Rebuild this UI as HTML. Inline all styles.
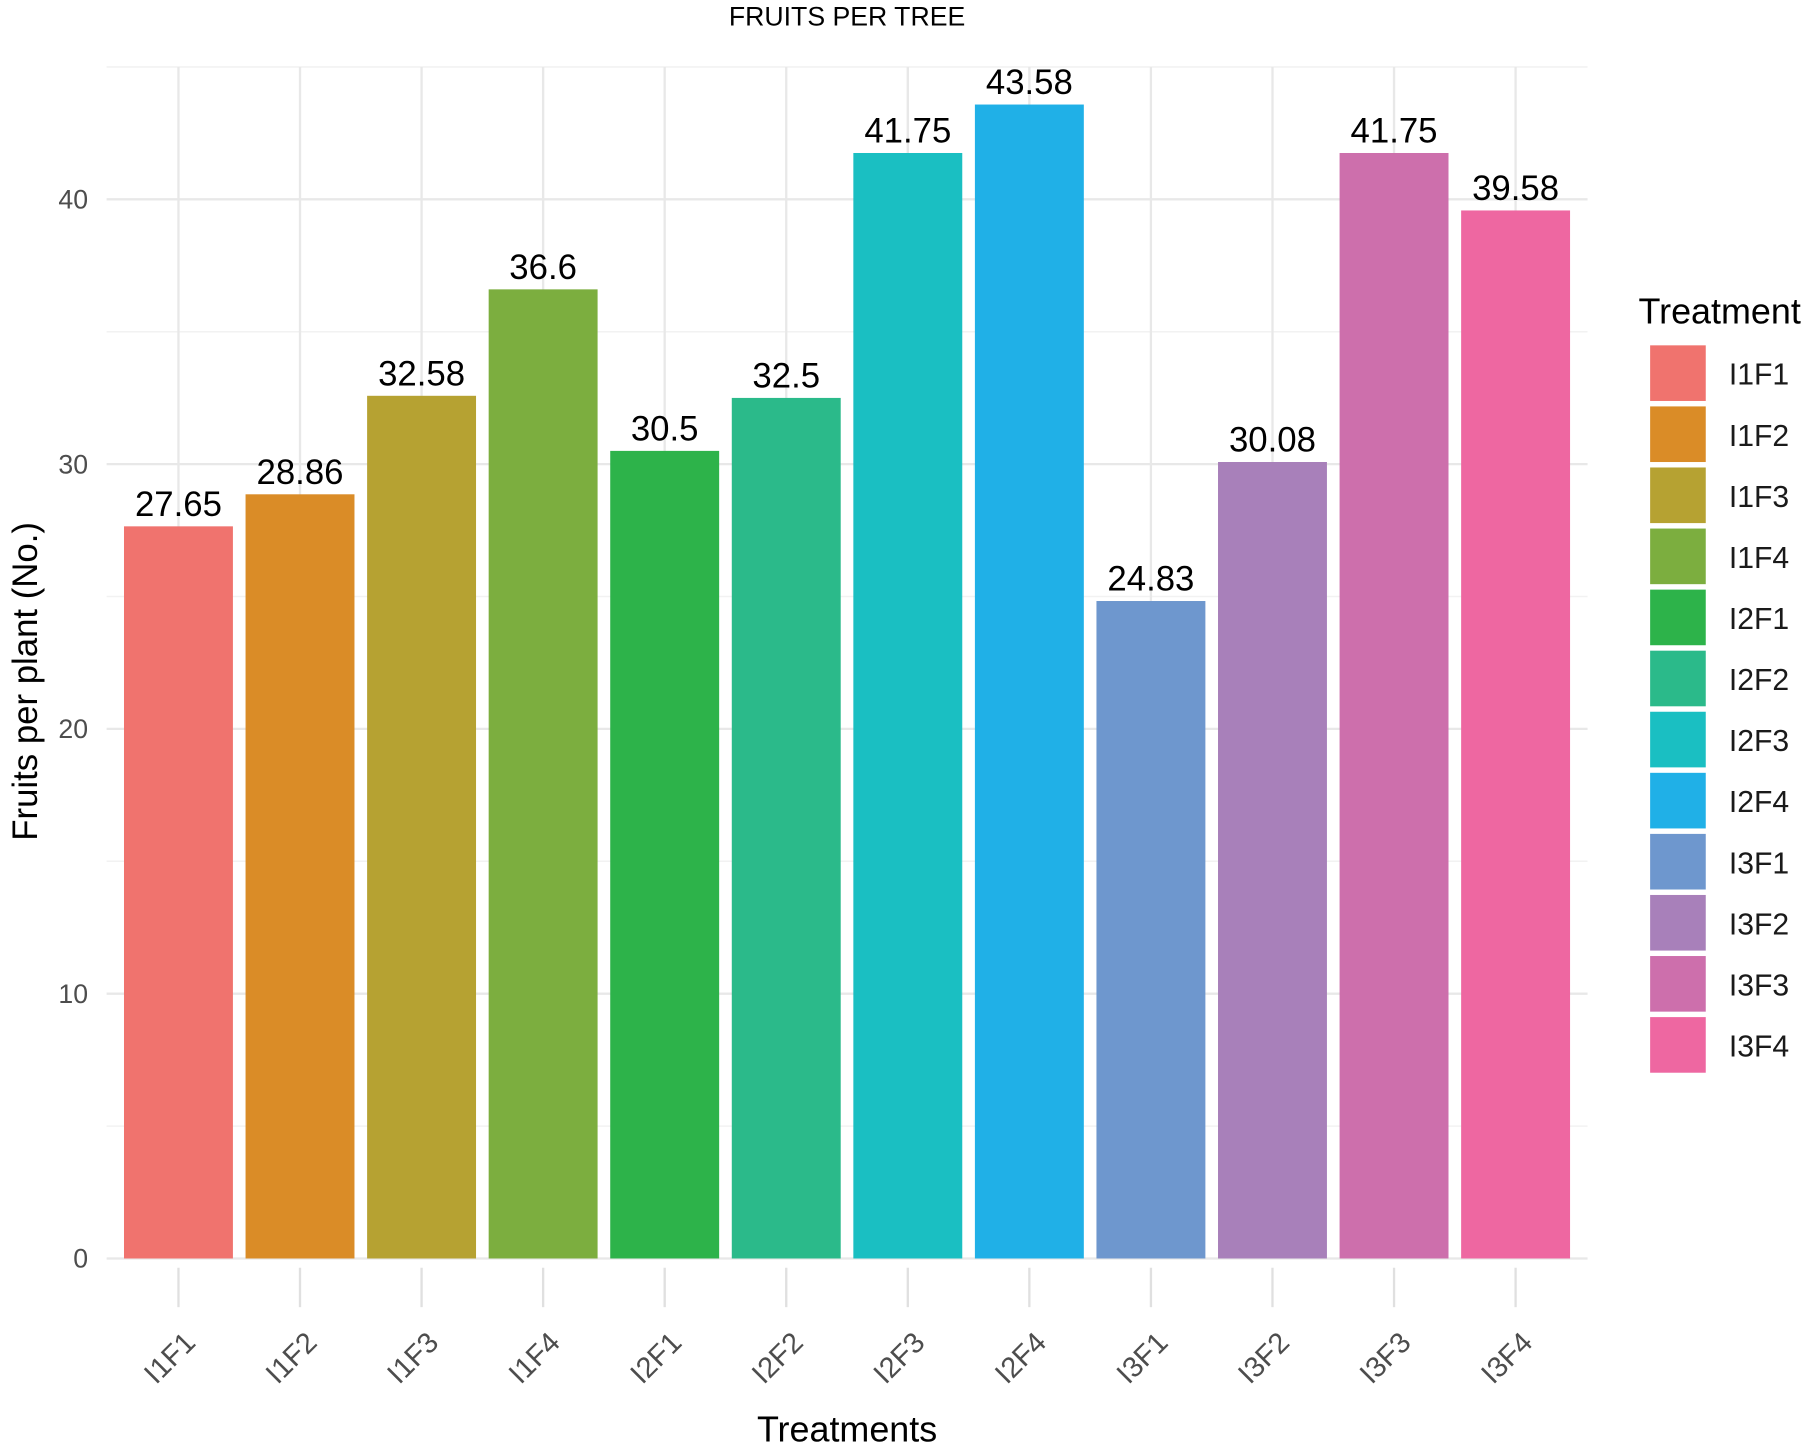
<!DOCTYPE html>
<html><head><meta charset="utf-8"><style>
html,body{margin:0;padding:0;background:#fff;}
svg{display:block;font-family:"Liberation Sans",Arial,sans-serif;}
</style></head><body>
<svg id="chart" width="1817" height="1449" viewBox="0 0 1568 1250.4" xmlns="http://www.w3.org/2000/svg">
<rect width="1568" height="1250.4" fill="#fff"/>
<g id="grid"></g><g id="bars"></g><g id="axes"></g><g id="legend"></g>
</svg>
<script>
const categories = ["I1F1","I1F2","I1F3","I1F4","I2F1","I2F2","I2F3","I2F4","I3F1","I3F2","I3F3","I3F4"];
const values = [27.65,28.86,32.58,36.6,30.5,32.5,41.75,43.58,24.83,30.08,41.75,39.58];
const valueLabels = ["27.65","28.86","32.58","36.6","30.5","32.5","41.75","43.58","24.83","30.08","41.75","39.58"];
const colors = ["#F0736E","#DA8C27","#B6A232","#7CAE3F","#2DB34A","#2BBA8A","#1ABFC2","#20B0E7","#6E97CE","#A880BA","#CD6FAC","#EE67A1"];
const majorTicks = [0,10,20,30,40];
const minorTicks = [5,15,25,35,45];

const NS="http://www.w3.org/2000/svg";
const X0=154, STEP=104.9, BW=94;
const Y0=1086, PER=22.85;
const xPos=i=>X0+i*STEP;
const yPos=v=>Y0-v*PER;
function mk(tag,attrs,parent,text){const e=document.createElementNS(NS,tag);for(const k in attrs)e.setAttribute(k,attrs[k]);if(text!==undefined)e.textContent=text;parent.appendChild(e);return e;}
const grid=document.getElementById('grid'),bars=document.getElementById('bars'),axes=document.getElementById('axes'),legend=document.getElementById('legend');
const PL=92, PR=1370, PT=yPos(45);

minorTicks.forEach(t=>{const l=mk('line',{x1:PL,x2:PR,y1:yPos(t),y2:yPos(t),stroke:'#f2f2f2','stroke-width':1.3},grid);

});
majorTicks.forEach(t=>{const l=mk('line',{x1:PL,x2:PR,y1:yPos(t),y2:yPos(t),stroke:'#e8e8e8','stroke-width':2},grid);


const tx=mk('text',{x:76,y:yPos(t)+8,'text-anchor':'end','font-size':23,fill:'#4d4d4d'},axes,String(t));

});
categories.forEach((c,i)=>{const l=mk('line',{x1:xPos(i),x2:xPos(i),y1:PT,y2:Y0,stroke:'#e8e8e8','stroke-width':2},grid);


const tk=mk('line',{x1:xPos(i),x2:xPos(i),y1:1094,y2:1128,stroke:'#e0e0e0','stroke-width':2},axes);


const b=mk('rect',{x:xPos(i)-BW/2,y:yPos(values[i]),width:BW,height:Y0-yPos(values[i]),fill:colors[i]},bars);


const vl=mk('text',{x:xPos(i),y:yPos(values[i])-9,'text-anchor':'middle','font-size':30,fill:'#000'},bars,valueLabels[i]);


const xl=mk('text',{x:0,y:0,'text-anchor':'end','font-size':25,fill:'#4d4d4d',transform:`translate(${xPos(i)+16},${1160}) rotate(-45)`},axes,c);


const ky=298+i*52.7;
const k=mk('rect',{x:1424,y:ky,width:48,height:48,fill:colors[i]},legend);


const lt=mk('text',{x:1492,y:ky+34,'font-size':26,fill:'#1a1a1a'},legend,c);

});
const tl=mk('text',{x:1414,y:279,'font-size':31,fill:'#000'},legend,'Treatment');


const t=mk('text',{x:731,y:22,'text-anchor':'middle','font-size':23,fill:'#000'},axes,'FRUITS PER TREE');


const xt=mk('text',{x:731,y:1244,'text-anchor':'middle','font-size':31,fill:'#000'},axes,'Treatments');


const yt=mk('text',{x:0,y:0,'text-anchor':'middle','font-size':30,fill:'#000',transform:'translate(32,588) rotate(-90)'},axes,'Fruits per plant (No.)');


</script>
</body></html>
